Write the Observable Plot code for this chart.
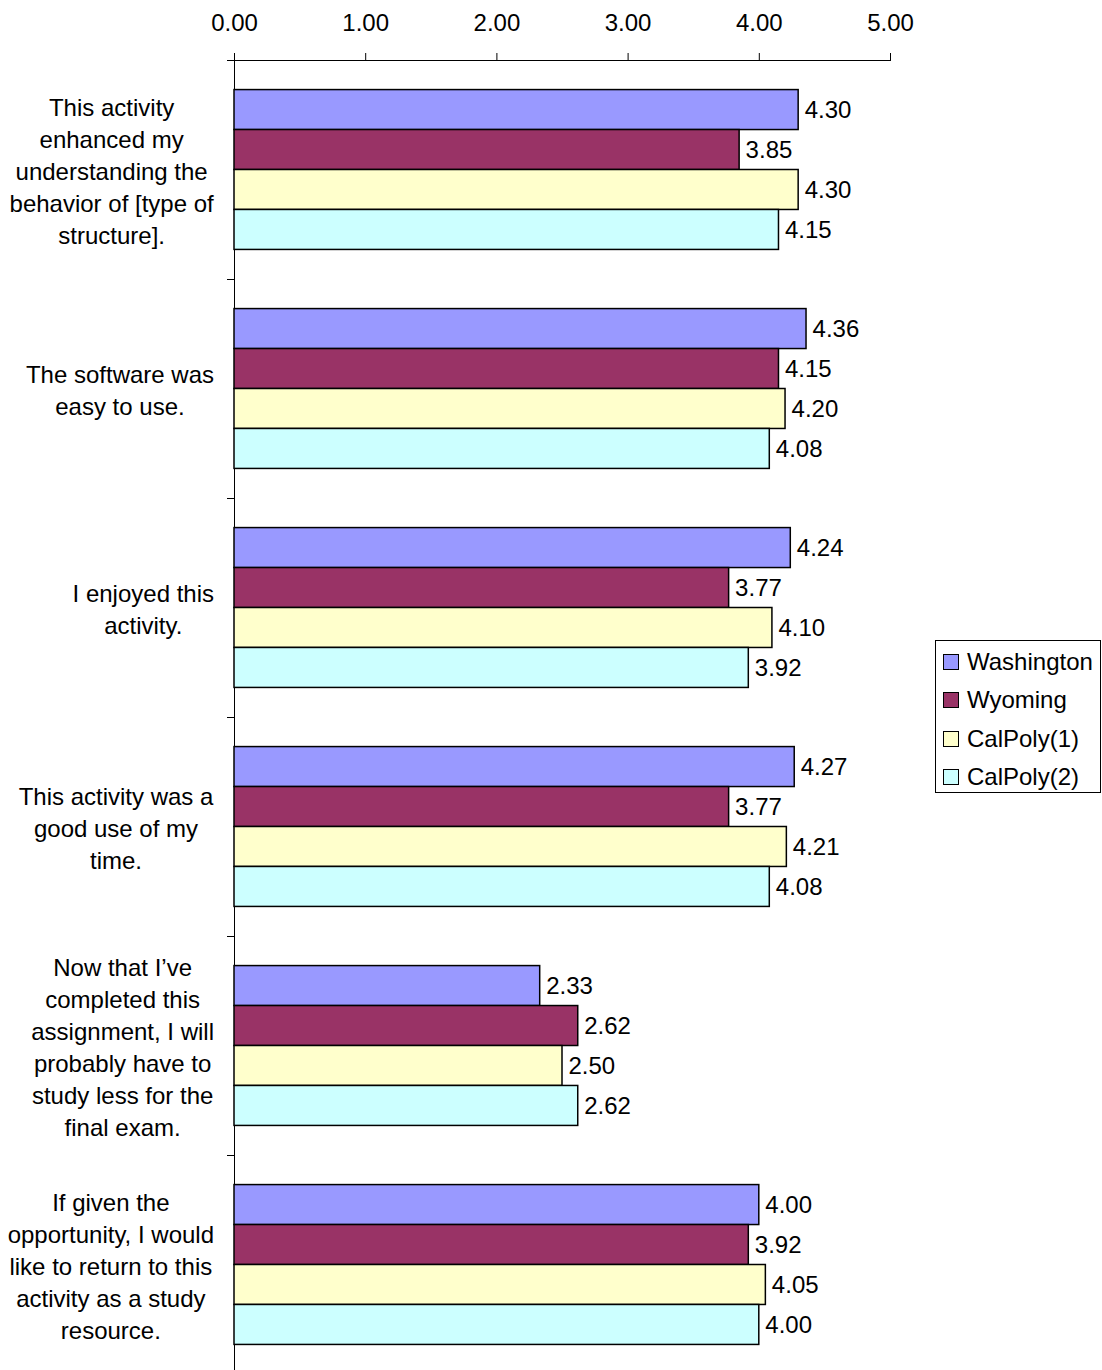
<!DOCTYPE html>
<html>
<head>
<meta charset="utf-8">
<script src="https://cdn.jsdelivr.net/npm/d3@7"></script>
<script src="https://cdn.jsdelivr.net/npm/@observablehq/plot@0.6"></script>
<style>
  html, body { margin: 0; padding: 0; background: #fff; overflow: hidden; }
  #wrap { position: relative; width: 1102px; height: 1370px; }
  #legend { position: absolute; left: 935px; top: 640px; width: 166px; height: 153px;
    border: 1px solid #000; box-sizing: border-box; background: #fff;
    font-family: "Liberation Sans", Arial, sans-serif; font-size: 24px; color: #000; }
  #legend .row { position: absolute; left: 7px; height: 24px; display: flex; align-items: center; white-space: nowrap; }
  #legend .sw { width: 14px; height: 14px; border: 1px solid #000; margin-right: 8px; }
</style>
</head>
<body>
<div id="wrap"></div>
<script>
const series = ["Washington", "Wyoming", "CalPoly(1)", "CalPoly(2)"];
const colors = ["#9999FF", "#993366", "#FFFFCC", "#CCFFFF"];
const questions = [
  "This activity\nenhanced my\nunderstanding the\nbehavior of [type of\nstructure].",
  "The software was\neasy to use.",
  "I enjoyed this\nactivity.",
  "This activity was a\ngood use of my\ntime.",
  "Now that I\u2019ve\ncompleted this\nassignment, I will\nprobably have to\nstudy less for the\nfinal exam.",
  "If given the\nopportunity, I would\nlike to return to this\nactivity as a study\nresource."
];
const washington = [4.30, 4.36, 4.24, 4.27, 2.33, 4.00];
const wyoming    = [3.85, 4.15, 3.77, 3.77, 2.62, 3.92];
const calpoly1   = [4.30, 4.20, 4.10, 4.21, 2.50, 4.05];
const calpoly2   = [4.15, 4.08, 3.92, 4.08, 2.62, 4.00];
const xTicks = [0, 1, 2, 3, 4, 5];

const valuesBySeries = [washington, wyoming, calpoly1, calpoly2];
const data = [];
questions.forEach((q, i) => {
  series.forEach((s, j) => data.push({q, s, v: valuesBySeries[j][i]}));
});

const font = `"Liberation Sans", Arial, sans-serif`;

const chart = Plot.plot({
  width: 1102,
  height: 1374,
  marginLeft: 234,
  marginRight: 212,
  marginTop: 60,
  marginBottom: 0,
  style: {fontFamily: font, fontSize: "24px", background: "#fff", color: "#000"},
  x: {domain: [0, 5], axis: "top", ticks: xTicks, tickFormat: d => d.toFixed(2),
      tickSize: 8, tickPadding: 22, line: true, label: null},
  y: {domain: series, paddingInner: 0, paddingOuter: 0.74, round: false, axis: null},
  fy: {domain: questions, padding: 0, round: false, axis: null},
  color: {domain: series, range: colors},
  marks: [
    Plot.frame({anchor: "top", insetLeft: -7, insetRight: 656, stroke: "#000"}),
    Plot.ruleX([0], {stroke: "#000"}),
    Plot.barX(data, {fy: "q", y: "s", x: "v", fill: "s", stroke: "#000", strokeWidth: 1.5}),
    Plot.text(data, {fy: "q", y: "s", x: "v", text: d => d.v.toFixed(2),
      textAnchor: "start", dx: 6, fontSize: 24, fill: "#000"}),
    Plot.text(questions, {fy: d => d, text: d => d, frameAnchor: "left",
      textAnchor: "middle", dx: -120, fontSize: 24, lineHeight: 1.333, fill: "#000",
      className: "qlabel"})
  ]
});

const wrap = document.getElementById("wrap");
wrap.appendChild(chart);

// right-align each label block at a common edge, keeping lines centred within the block
const svgRect = chart.getBoundingClientRect();
chart.querySelectorAll(".qlabel text").forEach(t => {
  const r = t.getBoundingClientRect();
  const right = r.right - svgRect.left;
  const dx = 214 - right;
  const tr = t.getAttribute("transform") || "";
  t.setAttribute("transform", `translate(${dx},0) ${tr}`);
});

// legend
const legend = document.createElement("div");
legend.id = "legend";
const rowTops = [9, 47, 86, 124];
series.forEach((s, i) => {
  const row = document.createElement("div");
  row.className = "row";
  row.style.top = rowTops[i] + "px";
  const sw = document.createElement("div");
  sw.className = "sw";
  sw.style.background = colors[i];
  const lab = document.createElement("span");
  lab.textContent = s;
  row.appendChild(sw);
  row.appendChild(lab);
  legend.appendChild(row);
});
wrap.appendChild(legend);
</script>
</body>
</html>
